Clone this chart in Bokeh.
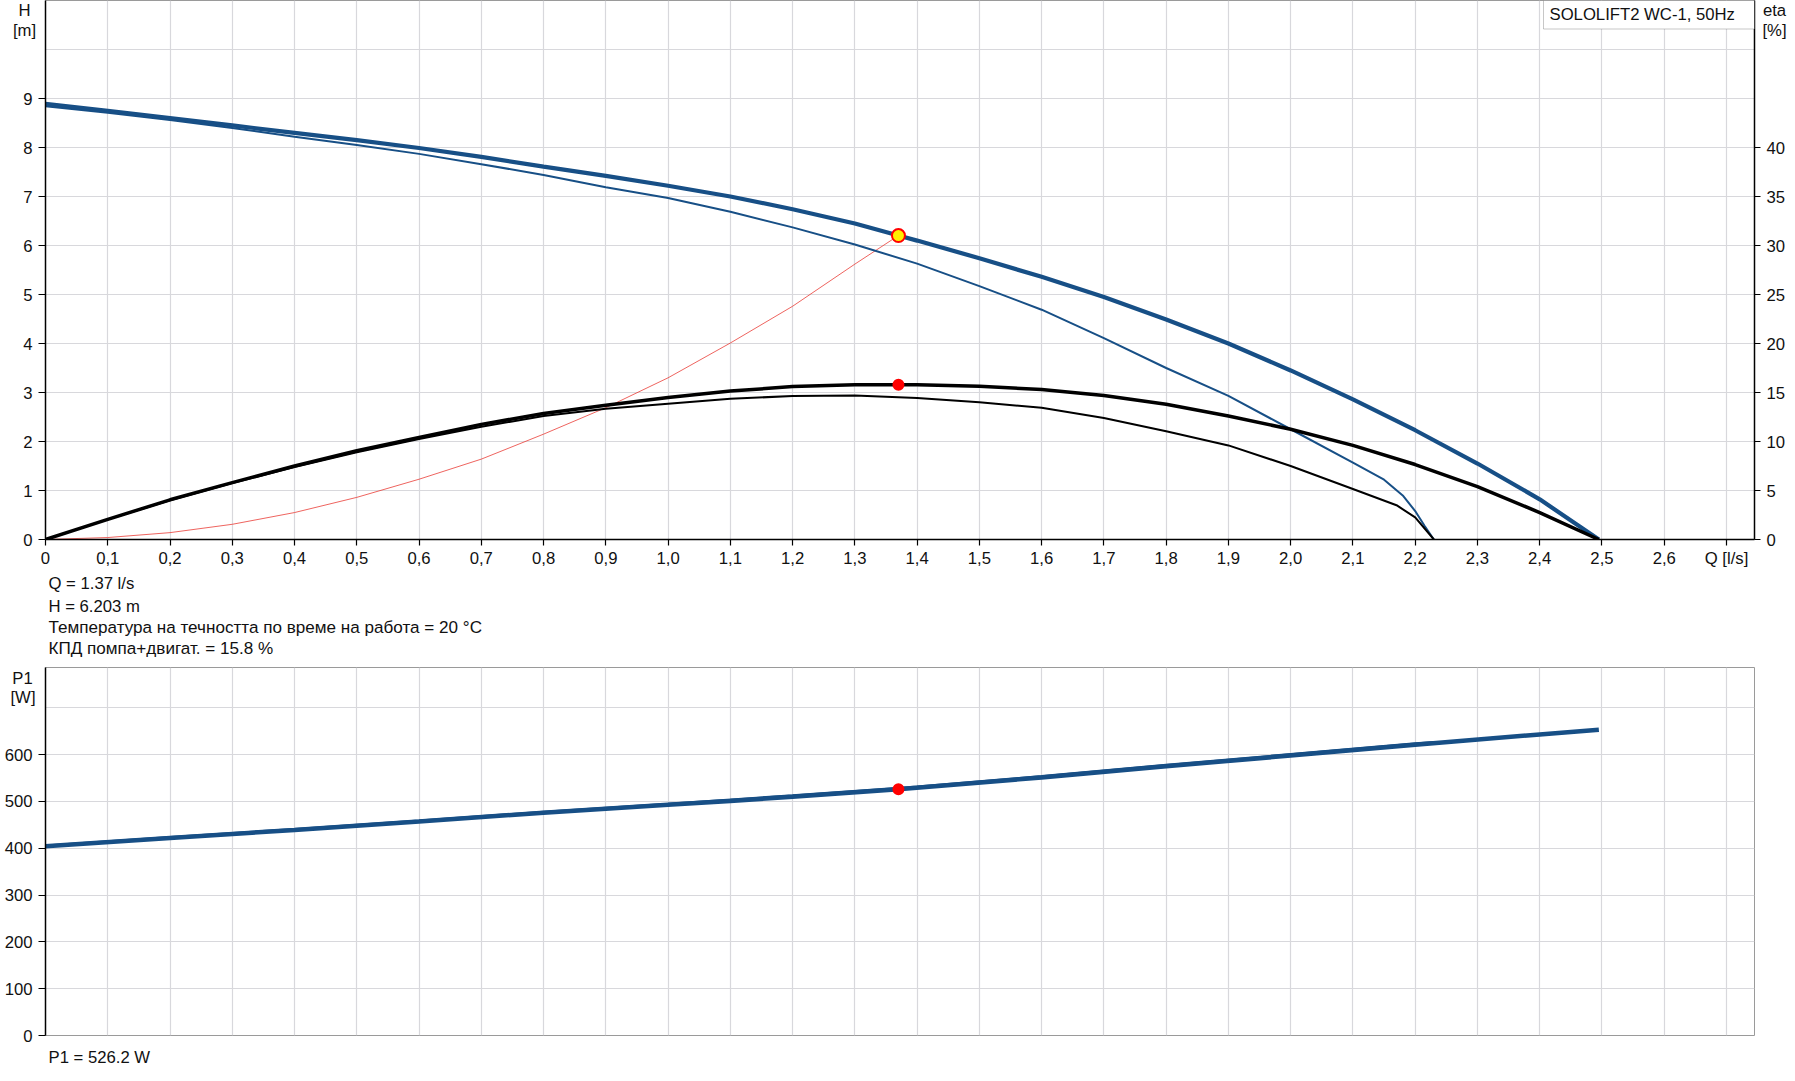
from bokeh.plotting import figure
from bokeh.models import Range1d, LinearAxis, FixedTicker, Label, BoxAnnotation, GridBox
from bokeh.layouts import column
from bokeh.embed import file_html
from bokeh.resources import INLINE

# ---------------- data ----------------
q_ticks = [0.0, 0.1, 0.2, 0.3, 0.4, 0.5, 0.6, 0.7, 0.8, 0.9, 1.0, 1.1, 1.2, 1.3,
           1.4, 1.5, 1.6, 1.7, 1.8, 1.9, 2.0, 2.1, 2.2, 2.3, 2.4, 2.5, 2.6, 2.7]
q_tick_labels = ["0", "0,1", "0,2", "0,3", "0,4", "0,5", "0,6", "0,7", "0,8", "0,9",
                 "1,0", "1,1", "1,2", "1,3", "1,4", "1,5", "1,6", "1,7", "1,8", "1,9",
                 "2,0", "2,1", "2,2", "2,3", "2,4", "2,5", "2,6", "Q [l/s]"]
h_ticks = [0, 1, 2, 3, 4, 5, 6, 7, 8, 9]
h_grid = [0, 1, 2, 3, 4, 5, 6, 7, 8, 9, 10, 11]
eta_ticks = [0, 5, 10, 15, 20, 25, 30, 35, 40]
p_ticks = [0, 100, 200, 300, 400, 500, 600]
p_grid = [0, 100, 200, 300, 400, 500, 600, 700]

# QH curve, nominal (thick)
qh_q = [0.0, 0.1, 0.2, 0.3, 0.4, 0.5, 0.6, 0.7, 0.8, 0.9, 1.0, 1.1, 1.2, 1.3, 1.37,
        1.4, 1.5, 1.6, 1.7, 1.8, 1.9, 2.0, 2.1, 2.2, 2.3, 2.4, 2.495]
qh_h = [8.89, 8.75, 8.60, 8.45, 8.30, 8.15, 7.99, 7.81, 7.61, 7.42, 7.22, 7.00, 6.74,
        6.45, 6.203, 6.10, 5.74, 5.36, 4.95, 4.49, 4.00, 3.45, 2.86, 2.23, 1.55, 0.82, 0.0]

# QH curve, second (thin)
qh2_q = [0.0, 0.1, 0.2, 0.3, 0.4, 0.5, 0.6, 0.7, 0.8, 0.9, 1.0, 1.1, 1.2, 1.3, 1.4,
         1.5, 1.6, 1.7, 1.8, 1.9, 2.0, 2.1, 2.15, 2.18, 2.2, 2.215, 2.23]
qh2_h = [8.84, 8.71, 8.56, 8.40, 8.22, 8.05, 7.87, 7.66, 7.44, 7.19, 6.97, 6.69, 6.37,
         6.02, 5.63, 5.17, 4.69, 4.11, 3.50, 2.93, 2.25, 1.57, 1.22, 0.90, 0.58, 0.28, 0.0]

# efficiency curves [%]
eta_q = [0.0, 0.1, 0.2, 0.3, 0.4, 0.5, 0.6, 0.7, 0.8, 0.9, 1.0, 1.1, 1.2, 1.3, 1.37,
         1.4, 1.5, 1.6, 1.7, 1.8, 1.9, 2.0, 2.1, 2.2, 2.3, 2.4, 2.495]
eta_v = [0.0, 2.05, 4.05, 5.8, 7.5, 9.05, 10.4, 11.75, 12.85, 13.7, 14.5, 15.15, 15.6,
         15.8, 15.8, 15.8, 15.65, 15.3, 14.7, 13.8, 12.6, 11.25, 9.6, 7.65, 5.4, 2.75, 0.0]

eta2_q = [0.0, 0.1, 0.2, 0.3, 0.4, 0.5, 0.6, 0.7, 0.8, 0.9, 1.0, 1.1, 1.2, 1.3, 1.4,
          1.5, 1.6, 1.7, 1.8, 1.9, 2.0, 2.1, 2.17, 2.2, 2.23]
eta2_v = [0.0, 2.05, 4.0, 5.75, 7.4, 8.9, 10.25, 11.5, 12.6, 13.35, 13.85, 14.35, 14.65,
          14.7, 14.45, 14.0, 13.45, 12.4, 11.05, 9.6, 7.5, 5.15, 3.5, 2.25, 0.0]

# system curve
sys_q = [0.0, 0.1, 0.2, 0.3, 0.4, 0.5, 0.6, 0.7, 0.8, 0.9, 1.0, 1.1, 1.2, 1.3, 1.37]
sys_h = [0.0, 0.04, 0.14, 0.31, 0.55, 0.86, 1.23, 1.64, 2.15, 2.69, 3.30, 4.01, 4.76,
         5.62, 6.203]

# power curves [W]
p1_q = [0.0, 0.2, 0.4, 0.6, 0.8, 1.0, 1.1, 1.2, 1.37, 1.6, 1.8, 2.0, 2.2, 2.4, 2.495]
p1_w = [404, 422, 439, 457, 476, 493, 501, 510, 526.2, 551, 575, 598, 621, 643, 653]
p2_q = [0.0, 0.2, 0.4, 0.6, 0.8, 1.0, 1.2, 1.4, 1.6, 1.8, 2.0, 2.2, 2.23]
p2_w = [405, 423, 440, 458, 477, 494, 512, 531, 553, 577, 600, 623, 626]

duty_q = 1.37
duty_h = 6.203
duty_eta = 15.8
duty_p1 = 526.2
temp_c = 20
title_text = "SOLOLIFT2 WC-1, 50Hz"

# ---------------- style ----------------
FONT = "Liberation Sans"
FS = "16.7px"
FS_CYR = "17.1px"
TXT = "#111111"
BLUE = "#174f86"
GRID = "#d8d8dc"
OUTLINE = "#9a9a9a"

W = 1790
LEFT = 45
RIGHT = W - 1754
FRAME_W = W - LEFT - RIGHT
TOP_H = 660
TOP_FRAME_H = 539
BOT_H = 418
BOT_TOP = 7
BOT_FRAME_H = 368
TOTAL_H = TOP_H + BOT_H
Q_MAX = 2.745
H_MAX = 11.0


def style_axis(ax, tick_out):
    ax.major_label_text_font = FONT
    ax.major_label_text_font_size = FS
    ax.major_label_text_color = TXT
    ax.major_tick_in = 0
    ax.major_tick_out = tick_out
    ax.minor_tick_in = 0
    ax.minor_tick_out = 0
    ax.axis_line_color = "black"
    ax.axis_line_width = 1.5
    ax.major_tick_line_color = "black"
    ax.major_tick_line_width = 1.2


def style_grid(p):
    for g in (p.xgrid[0], p.ygrid[0]):
        g.grid_line_color = GRID
        g.grid_line_width = 1.2


# ---------------- top plot ----------------
top = figure(width=W, height=TOP_H, x_range=Range1d(0, Q_MAX), y_range=Range1d(0, H_MAX),
             output_backend="svg", toolbar_location=None,
             min_border_left=LEFT, min_border_right=RIGHT, min_border_top=0,
             min_border_bottom=TOP_H - TOP_FRAME_H)
top.extra_y_ranges = {"eta": Range1d(0, H_MAX * 5)}
top.outline_line_color = OUTLINE

top.xaxis.ticker = FixedTicker(ticks=q_ticks)
top.xaxis.major_label_overrides = dict(zip(q_ticks, q_tick_labels))
top.xaxis.major_label_standoff = 3
style_axis(top.xaxis[0], 6)
top.yaxis.ticker = FixedTicker(ticks=h_ticks)
top.yaxis.major_label_standoff = 6
style_axis(top.yaxis[0], 7)

eta_axis = LinearAxis(y_range_name="eta", ticker=FixedTicker(ticks=eta_ticks))
eta_axis.major_label_standoff = 6
style_axis(eta_axis, 6)
top.add_layout(eta_axis, "right")

top.xgrid.ticker = FixedTicker(ticks=q_ticks)
top.ygrid.ticker = FixedTicker(ticks=h_grid)
style_grid(top)

top.line(sys_q, sys_h, line_color="#e8302a", line_width=1, line_alpha=0.75)
top.line(qh2_q, qh2_h, line_color=BLUE, line_width=2)
top.line(qh_q, qh_h, line_color=BLUE, line_width=4.2)
top.line(eta2_q, eta2_v, y_range_name="eta", line_color="black", line_width=2)
top.line(eta_q, eta_v, y_range_name="eta", line_color="black", line_width=3.5)
top.scatter([duty_q], [duty_h], size=13, fill_color="#ffee00", line_color="red", line_width=2)
top.scatter([duty_q], [duty_eta], y_range_name="eta", size=12, fill_color="red", line_color=None)

# title box in the top-right corner of the frame
px_per_q = FRAME_W / Q_MAX
px_per_h = TOP_FRAME_H / H_MAX
top.add_layout(BoxAnnotation(left=(1543 - LEFT) / px_per_q, right=Q_MAX,
                             bottom=H_MAX - 28.5 / px_per_h, top=H_MAX,
                             fill_color="white", fill_alpha=1.0,
                             line_color="#444444", line_width=1, level="annotation"))
top.add_layout(Label(x=1549 - LEFT, y=TOP_FRAME_H - 13.5, x_units="screen", y_units="screen",
                     text=title_text, text_font=FONT, text_font_size=FS, text_color=TXT,
                     text_align="left", text_baseline="middle"))

# ---------------- bottom plot ----------------
bot = figure(width=W, height=BOT_H, x_range=top.x_range, y_range=Range1d(0, 786),
             output_backend="svg", toolbar_location=None, x_axis_location=None,
             min_border_left=LEFT, min_border_right=RIGHT, min_border_top=BOT_TOP,
             min_border_bottom=BOT_H - BOT_TOP - BOT_FRAME_H)
bot.outline_line_color = OUTLINE
bot.yaxis.ticker = FixedTicker(ticks=p_ticks)
bot.yaxis.major_label_standoff = 6
style_axis(bot.yaxis[0], 7)
bot.xgrid.ticker = FixedTicker(ticks=q_ticks)
bot.ygrid.ticker = FixedTicker(ticks=p_grid)
style_grid(bot)

bot.line(p2_q, p2_w, line_color=BLUE, line_width=3)
bot.line(p1_q, p1_w, line_color=BLUE, line_width=4.5)
bot.scatter([duty_q], [duty_p1], size=12, fill_color="red", line_color=None)

# ---------------- transparent text overlay (page coordinates) ----------------
ov = figure(width=W, height=TOTAL_H, output_backend="svg", toolbar_location=None,
            x_axis_location=None, y_axis_location=None,
            min_border_left=0, min_border_right=0, min_border_top=0, min_border_bottom=0,
            x_range=Range1d(0, W), y_range=Range1d(0, TOTAL_H))
ov.xgrid.visible = False
ov.ygrid.visible = False
ov.outline_line_color = None
ov.background_fill_color = None
ov.border_fill_color = None


def ov_text(text, px, py, align="left", size=FS):
    ov.add_layout(Label(x=px, y=TOTAL_H - py, x_units="screen", y_units="screen",
                        text=text, text_font=FONT, text_font_size=size, text_color=TXT,
                        text_align=align, text_baseline="middle"))


ov_text("H", 24, 10, "center")
ov_text("[m]", 24, 30, "center")
ov_text("eta", 1774, 10, "center")
ov_text("[%]", 1774, 30, "center")
ov_text(f"Q = {duty_q} l/s", 48, 583)
ov_text(f"H = {duty_h} m", 48, 606)
ov_text(f"Температура на течността по време на работа = {temp_c} °C", 48, 627, size=FS_CYR)
ov_text(f"КПД помпа+двигат. = {duty_eta} %", 48, 648, size=FS_CYR)
ov_text("P1", 22, 678, "center")
ov_text("[W]", 22.5, 697, "center")
ov_text(f"P1 = {duty_p1} W", 48, 1057)

plots = column(top, bot, spacing=0)
overlay = column(ov)
layout = GridBox(children=[(plots, 0, 0), (overlay, 0, 0)])

open("out.html", "w").write(file_html(layout, INLINE))
